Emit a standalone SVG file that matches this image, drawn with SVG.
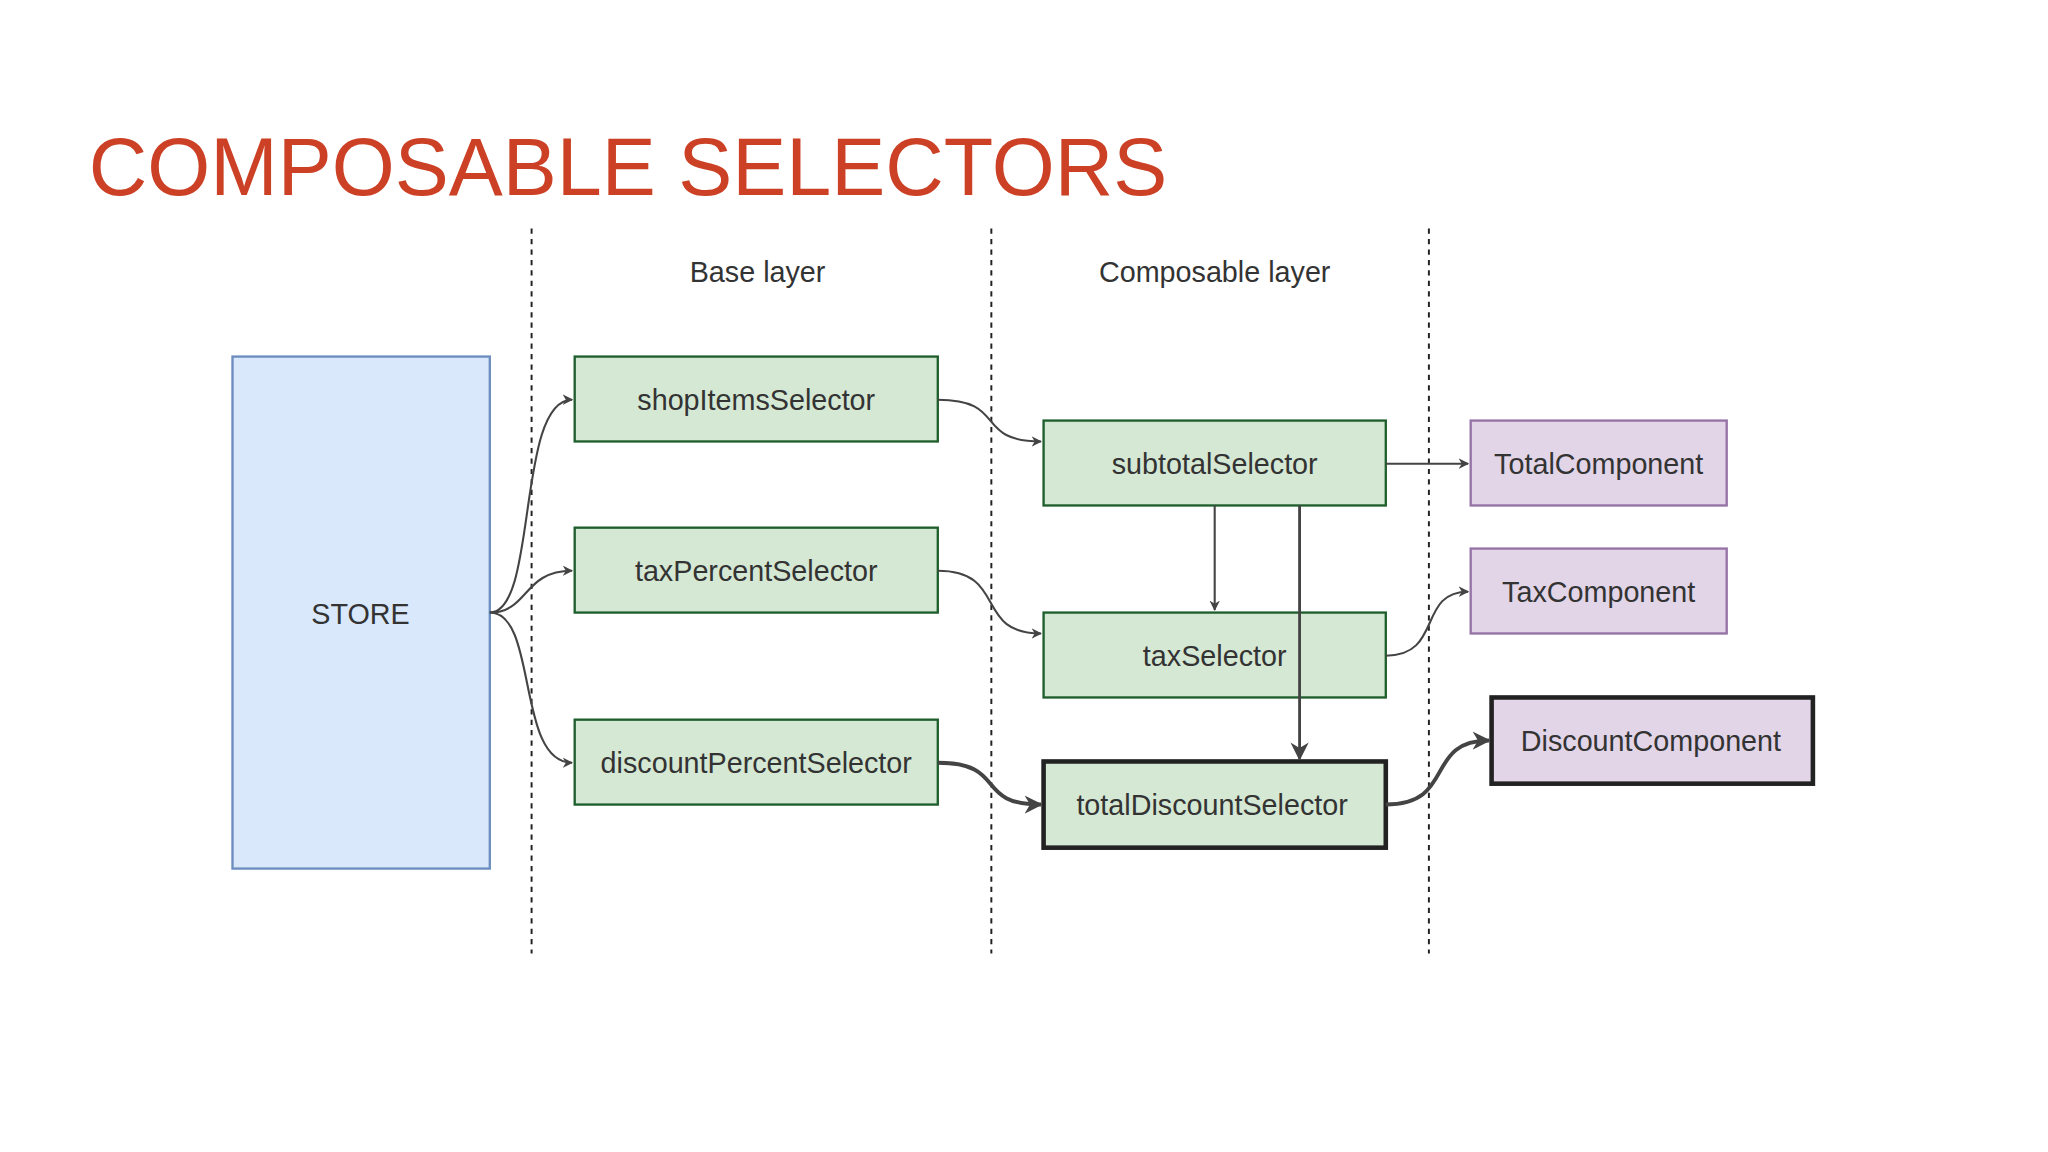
<svg xmlns="http://www.w3.org/2000/svg" width="2048" height="1152" viewBox="0 0 2048 1152">
<defs>
<style>
text{font-family:"Liberation Sans",Arial,sans-serif;fill:#333;text-anchor:middle;dominant-baseline:central;font-size:22px}
.g{fill:#d5e8d4;stroke:#1f5f2e;stroke-width:1.8}
.p{fill:#e1d5e7;stroke:#9673a6;stroke-width:1.8}
.bold{stroke:#222;stroke-width:3.5}
.c{fill:none;stroke:#444;stroke-width:1.6}
.ct{fill:none;stroke:#444;stroke-width:3}
.d{stroke:#222;stroke-width:1.5;stroke-dasharray:4 4}
</style>
<marker id="a" viewBox="0 0 10 10" refX="9" refY="5" markerWidth="8" markerHeight="8" markerUnits="userSpaceOnUse" orient="auto"><path d="M0,0L10,5L0,10L3,5z" fill="#444"/></marker>
<marker id="at" viewBox="0 0 10 10" refX="9" refY="5" markerWidth="14" markerHeight="14" markerUnits="userSpaceOnUse" orient="auto"><path d="M0,0L10,5L0,10L3,5z" fill="#444"/></marker>
</defs>
<rect width="2048" height="1152" fill="#fff"/>
<g transform="scale(1.30612)">
<text x="68" y="128" style="text-anchor:start;font-size:62px;fill:#cc4125">COMPOSABLE SELECTORS</text>
<g id="lanes">
<line class="d" x1="407" y1="175" x2="407" y2="730"/>
<line class="d" x1="759" y1="175" x2="759" y2="730"/>
<line class="d" x1="1094" y1="175" x2="1094" y2="730"/>
<text x="580" y="208">Base layer</text>
<text x="930" y="208">Composable layer</text>
</g>
<g id="store"><rect x="178" y="273" width="197" height="392" fill="#dae8fc" stroke="#6c8ebf" stroke-width="1.8"/><text x="276" y="470">STORE</text></g>
<g id="shopItemsSelector"><rect class="g" x="440" y="273" width="278" height="65"/><text x="579" y="306">shopItemsSelector</text></g>
<g id="taxPercentSelector"><rect class="g" x="440" y="404" width="278" height="65"/><text x="579" y="437">taxPercentSelector</text></g>
<g id="discountPercentSelector"><rect class="g" x="440" y="551" width="278" height="65"/><text x="579" y="584">discountPercentSelector</text></g>
<g id="subtotalSelector"><rect class="g" x="799" y="322" width="262" height="65"/><text x="930" y="355">subtotalSelector</text></g>
<g id="taxSelector"><rect class="g" x="799" y="469" width="262" height="65"/><text x="930" y="502">taxSelector</text></g>
<g id="totalDiscountSelector"><rect class="g bold" x="799" y="583" width="262" height="66"/><text x="928" y="616">totalDiscountSelector</text></g>
<g id="TotalComponent"><rect class="p" x="1126" y="322" width="196" height="65"/><text x="1224" y="355">TotalComponent</text></g>
<g id="TaxComponent"><rect class="p" x="1126" y="420" width="196" height="65"/><text x="1224" y="453">TaxComponent</text></g>
<g id="DiscountComponent"><rect class="p bold" x="1142" y="534" width="246" height="66"/><text x="1264" y="567">DiscountComponent</text></g>
<g id="connectors">
<path class="c" marker-end="url(#a)" d="M375,469 C412,469 395,306 438,306"/>
<path class="c" marker-end="url(#a)" d="M375,469 C405,469 400,437 438,437"/>
<path class="c" marker-end="url(#a)" d="M375,469 C412,469 395,584 438,584"/>
<path class="c" marker-end="url(#a)" d="M718,306 C772,306 745,338 797,338"/>
<path class="c" marker-end="url(#a)" d="M718,437 C772,437 745,485 797,485"/>
<path class="ct" marker-end="url(#at)" d="M718,584 C772,584 745,616 797,616"/>
<path class="c" marker-end="url(#a)" d="M930,387 L930,467"/>
<path class="ct" style="stroke-width:2.2" marker-end="url(#at)" d="M995,387 L995,581"/>
<path class="c" marker-end="url(#a)" d="M1061,355 L1124,355"/>
<path class="c" marker-end="url(#a)" d="M1061,502 C1105,502 1085,453 1124,453"/>
<path class="ct" marker-end="url(#at)" d="M1061,616 C1115,616 1090,567 1140,567"/>
</g>
</g>
</svg>
